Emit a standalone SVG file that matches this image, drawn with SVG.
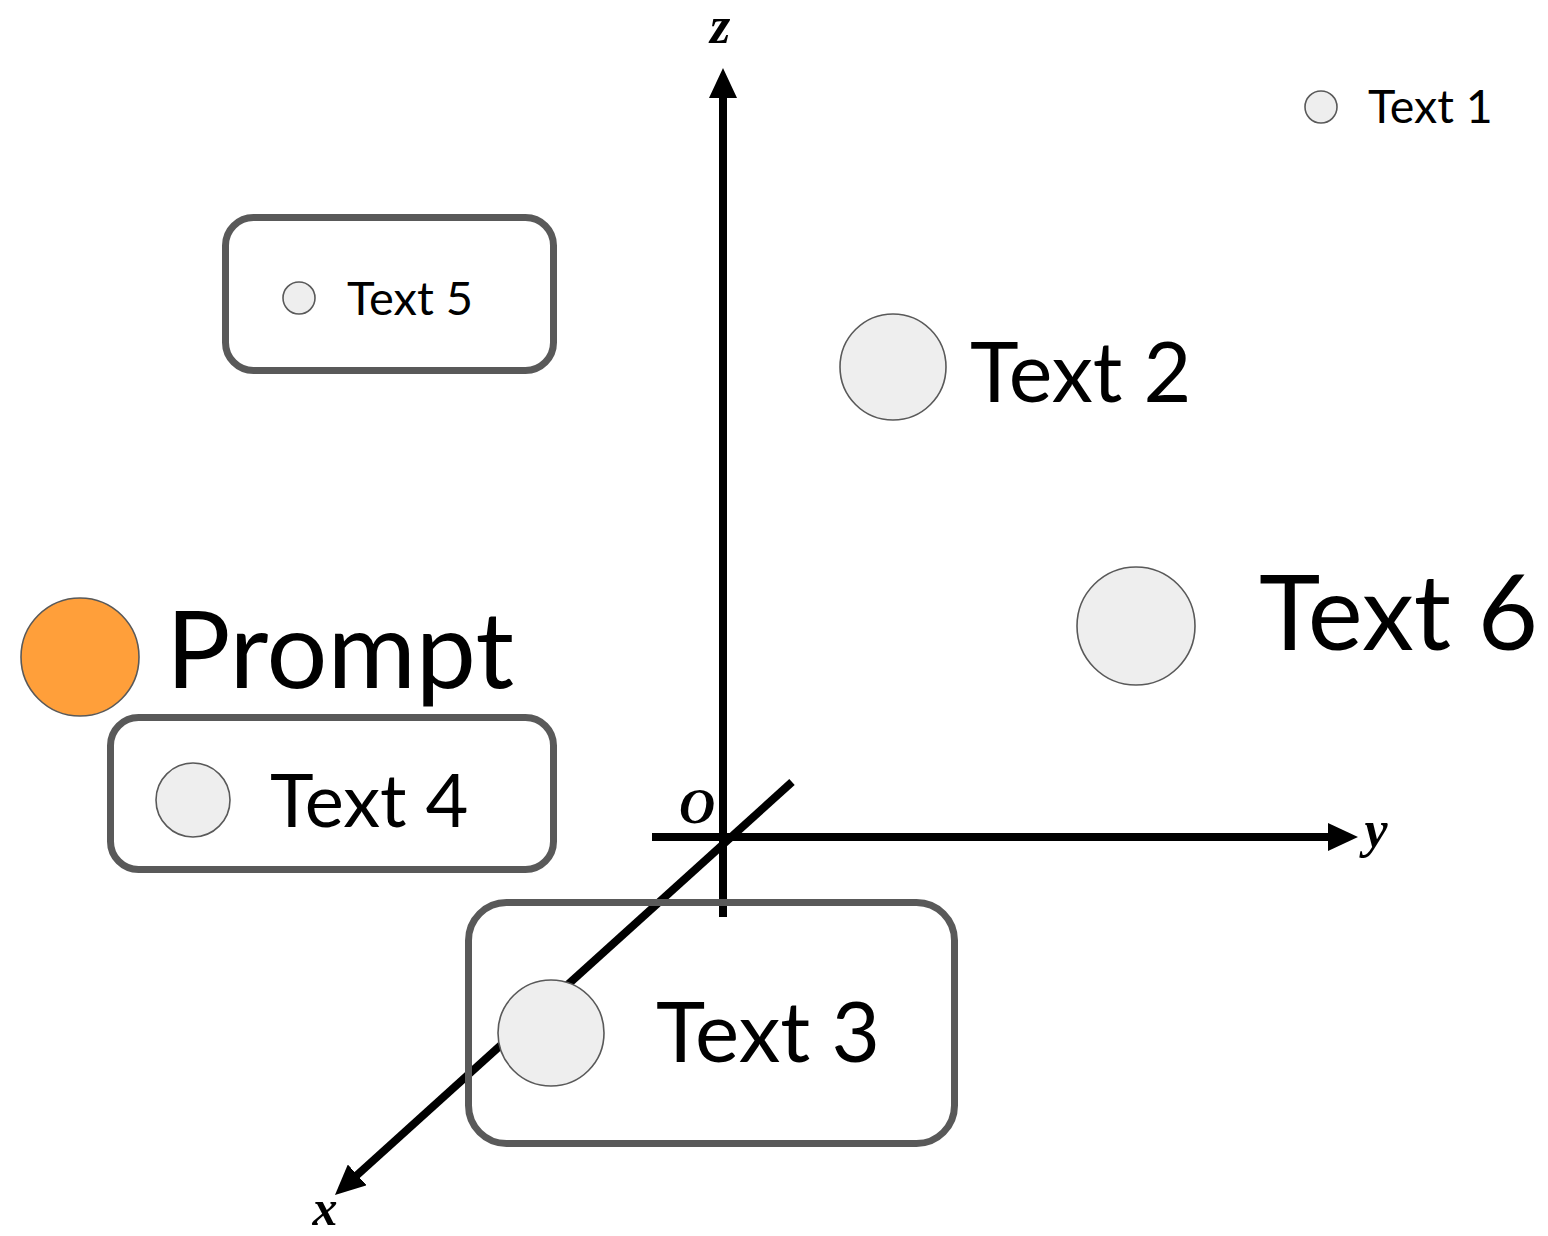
<svg xmlns="http://www.w3.org/2000/svg" width="1548" height="1236" viewBox="0 0 1548 1236">
  <style>
    .axis { stroke: #000; stroke-width: 8; fill: none; marker-end: url(#arrow); }
    .axlbl { font-family: "Liberation Serif", "Times New Roman", serif; font-style: italic; font-weight: bold; fill: #000; text-anchor: middle; }
    .box { fill: none; stroke: #595959; stroke-width: 7; }
    .dot { fill: #eeeeee; stroke: #595959; stroke-width: 1.6; }
    .prompt { fill: #ff9f3a; stroke: #595959; stroke-width: 1.6; }
    .lbl { font-family: "Lato", "Liberation Sans", sans-serif; fill: #000; }
  </style>
  <defs>
    <marker id="arrow" viewBox="0 0 30 28" refX="10" refY="14" markerWidth="30" markerHeight="28" markerUnits="userSpaceOnUse" orient="auto">
      <path d="M0,0 L30,14 L0,28 z" fill="#000"/>
    </marker>
  </defs>
  <rect width="1548" height="1236" fill="#fff"/>

  <g id="connectors">
    <line class="axis" x1="723" y1="917" x2="723" y2="88"/>
    <line class="axis" x1="652" y1="837" x2="1338" y2="837"/>
    <line class="axis" x1="792" y1="782" x2="349.8" y2="1181.6"/>
    <text class="axlbl" x="720" y="43" font-size="52">z</text>
    <text class="axlbl" x="697" y="823" font-size="50">O</text>
    <text class="axlbl" x="1376" y="847" font-size="52">y</text>
    <text class="axlbl" x="325" y="1225" font-size="50">x</text>
  </g>

  <g id="text1">
    <circle class="dot" cx="1321" cy="107" r="16"/>
    <text class="lbl" x="1368" y="123" font-size="46.5">Text 1</text>
  </g>

  <g id="text5">
    <rect class="box" x="225.5" y="217.5" width="328" height="153" rx="28"/>
    <circle class="dot" cx="299" cy="298" r="16"/>
    <text class="lbl" x="347" y="315" font-size="47">Text 5</text>
  </g>

  <g id="text2">
    <circle class="dot" cx="893" cy="367" r="53"/>
    <text class="lbl" x="970" y="402" font-size="82.5">Text 2</text>
  </g>

  <g id="text6">
    <circle class="dot" cx="1136" cy="626" r="59"/>
    <text class="lbl" x="1259" y="650" font-size="104">Text 6</text>
  </g>

  <g id="prompt">
    <circle class="prompt" cx="80" cy="657" r="59"/>
    <text class="lbl" x="166" y="688" font-size="107.5">Prompt</text>
  </g>

  <g id="text4">
    <rect class="box" x="110.5" y="717.5" width="443" height="152" rx="28"/>
    <circle class="dot" cx="193" cy="800" r="37"/>
    <text class="lbl" x="270" y="827" font-size="74">Text 4</text>
  </g>

  <g id="text3">
    <rect class="box" x="468.5" y="902.5" width="486" height="241" rx="38"/>
    <circle class="dot" cx="551" cy="1033" r="53"/>
    <text class="lbl" x="656" y="1062" font-size="83.5">Text 3</text>
  </g>
</svg>
